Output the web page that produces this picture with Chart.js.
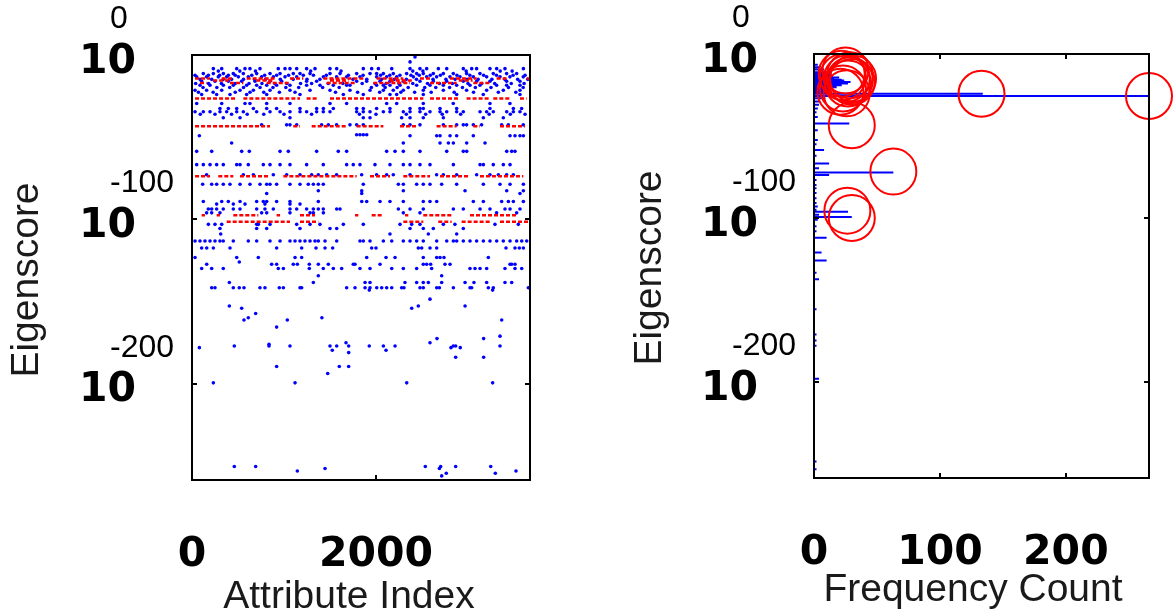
<!DOCTYPE html>
<html>
<head>
<meta charset="utf-8">
<script src="https://cdn.jsdelivr.net/npm/chart.js@4.4.1/dist/chart.umd.min.js"></script>
<style>
  html, body { margin: 0; padding: 0; background: #fff; }
  #wrap { position: relative; width: 1175px; height: 615px; overflow: hidden; }
  #left-chart { position: absolute; left: 0; top: 0; }
  #right-chart { position: absolute; left: 590px; top: 0; }
</style>
</head>
<body>
<div id="wrap">
  <canvas id="left-chart" width="590" height="615"></canvas>
  <canvas id="right-chart" width="585" height="615"></canvas>
</div>
<script>
'use strict';

// 軸の目盛り (y は 10 の指数)
const yTickExps = [0, -100, -200];
const xTicksLeft = [0, 2000];
const xTicksRight = [0, 100, 200];
const yMinExp = -258.5;

// 左図: 青い点 [指数, [属性インデックス...]]
const blueRows = [
  [-1.2, [2424]],
  [-4.2, [2370]],
  [-8.3, [232, 323, 486, 576, 630, 739, 938, 1011, 1065, 1138, 1246, 1337, 1500, 1573, 1862, 1953, 2026, 2171, 2370, 2478, 2551, 2678, 2769, 2949, 3040, 3094, 3239, 3312, 3402, 3602]],
  [-9.8, [286, 520, 690, 1290, 1620, 2400, 2510, 2980, 3350, 3480]],
  [-11.3, [123, 232, 341, 449, 558, 703, 848, 957, 1101, 1174, 1283, 1500, 1609, 1790, 1935, 2007, 2080, 2188, 2333, 2442, 2514, 2623, 2732, 2840, 2985, 3130, 3275, 3420, 3529]],
  [-12.3, [33, 178, 300, 395, 470, 650, 790, 920, 1050, 1210, 1320, 1460, 1700, 1860, 2050, 2150, 2260, 2380, 2470, 2590, 2700, 2880, 3020, 3170, 3310, 3490, 3620]],
  [-13.3, [51, 159, 286, 377, 504, 612, 757, 884, 1011, 1138, 1428, 1572, 1681, 1826, 2007, 2116, 2225, 2406, 2551, 2659, 2804, 2913, 3058, 3203, 3348, 3456, 3601]],
  [-14.8, [87, 214, 340, 430, 560, 680, 800, 960, 1100, 1250, 1390, 1520, 1750, 1900, 2060, 2200, 2330, 2440, 2620, 2760, 2860, 2990, 3110, 3260, 3400, 3540, 3650]],
  [-16, [105, 250, 395, 540, 685, 848, 975, 1246, 1355, 1790, 1899, 2043, 2152, 2297, 2478, 2623, 2768, 2949, 3094, 3239, 3420, 3565]],
  [-17.3, [40, 180, 320, 470, 620, 760, 900, 1030, 1180, 1300, 1480, 1640, 1850, 1990, 2110, 2250, 2400, 2560, 2690, 2830, 3000, 3150, 3290, 3470, 3610]],
  [-18.4, [87, 196, 341, 449, 594, 703, 812, 920, 1065, 1246, 1391, 1536, 1681, 1717, 2007, 2080, 2152, 2261, 2442, 2587, 2732, 2877, 3022, 3130, 3311, 3420, 3565]],
  [-19.8, [120, 270, 410, 560, 740, 880, 1020, 1160, 1420, 1600, 1950, 2100, 2230, 2350, 2530, 2650, 2800, 2940, 3080, 3250, 3440, 3600]],
  [-21.4, [33, 159, 323, 522, 667, 848, 1065, 1283, 1500, 1717, 1935, 2080, 2188, 2297, 2514, 2732, 2985, 3203, 3384, 3565]],
  [-22.7, [70, 230, 470, 630, 780, 950, 1120, 1560, 1800, 2040, 2270, 2420, 2600, 2850, 3060, 3330, 3520]],
  [-24, [105, 268, 413, 594, 812, 1174, 1645, 1862, 2152, 2225, 2514, 2877, 3166, 3565]],
  [-29.5, [51, 323, 576, 630, 812, 1065, 1500, 1681, 2116, 2225, 2514, 2840, 3239, 3456]],
  [-32.5, [304, 395, 486, 667, 812, 920, 1174, 1355, 1428, 1536, 1790, 1862, 2007, 2152, 2370, 2478, 2514, 2696, 2877, 3239, 3493, 3583]],
  [-34.5, [33, 123, 196, 304, 377, 486, 558, 703, 848, 957, 1065, 1174, 1246, 1355, 1427, 1500, 1790, 1862, 1935, 2080, 2152, 2297, 2370, 2478, 2587, 2696, 2769, 2877, 2949, 3131, 3203, 3275, 3421, 3493, 3565]],
  [-36, [90, 250, 430, 600, 780, 1000, 1300, 1820, 2000, 2330, 2540, 2720, 2920, 3230, 3460, 3620]],
  [-38.2, [340, 522, 1065, 1862, 1935, 2279, 2370, 2514, 2732, 3167, 3384]],
  [-42.5, [757, 1029, 1065, 1138, 1409, 1482, 1572, 1717, 1790, 1862, 2297, 2370, 2478, 2732, 2877, 2949, 2985, 3058, 3148, 3366, 3438, 3601]],
  [-48.5, [1790, 1826, 1862, 1899]],
  [-49.1, [80, 2370, 2660, 2696, 2805, 2877, 3058, 3457, 3511, 3565, 3602]],
  [-53.5, [431, 2297, 2696, 2787, 2841, 2986, 3185]],
  [-58.6, [51, 214, 540, 623, 957, 1047, 1355, 1590, 1681, 2116, 2207, 2297, 2478, 2769, 2949, 2986, 3421, 3475, 3511]],
  [-66.7, [51, 123, 196, 268, 340, 486, 522, 612, 775, 848, 957, 1065, 1246, 1427, 1681, 1753, 1826, 1989, 2152, 2297, 2370, 2478, 2587, 2841, 3131, 3167, 3275, 3384, 3457]],
  [-72.8, [159, 558, 667, 884, 1029, 1174, 1301, 1373, 1464, 1572, 1844, 2007, 2116, 2188, 2370, 2659, 2732, 2877, 3094, 3239, 3330, 3420, 3493]],
  [-78.6, [116, 214, 268, 340, 413, 522, 630, 739, 812, 848, 920, 1065, 1174, 1264, 1319, 1373, 1427, 1862, 2243, 2297, 2442, 2514, 2587, 2714, 2877, 3167, 3348, 3457, 3602]],
  [-82.6, [1373, 1845, 2297, 2968, 3421, 3602]],
  [-84.2, [812, 1845, 3565]],
  [-89.1, [123, 323, 395, 522, 703, 775, 812, 920, 1065, 1373, 1845, 1899, 2044, 2152, 2297, 2514, 2587, 2660, 3058, 3167, 3366, 3439, 3493, 3602]],
  [-90.7, [268, 449, 576, 793, 1065, 1174]],
  [-93.7, [177, 214, 268, 340, 449, 522, 703, 793, 884, 1065, 1138, 1246, 1319, 1373, 1427, 1573, 1609, 2243, 2370, 2514, 2841, 2949, 3131, 3239, 3402, 3457, 3565]],
  [-96, [159, 214, 304, 757, 812, 1065, 1283, 1319, 1428, 2297, 2478, 3311, 3529]],
  [-103, [178, 250, 323, 703, 721, 848, 1138, 1283, 1391, 1645, 1862, 2261, 2388, 2478, 2732, 2858, 3293, 3547]],
  [-105.5, [304, 703, 812, 1174, 1500, 1573, 2370, 2514, 2623, 2949]],
  [-108.9, [312, 2152, 2569, 2877]],
  [-113.1, [33, 87, 141, 196, 250, 304, 340, 449, 612, 703, 848, 957, 1065, 1120, 1174, 1228, 1283, 1337, 1373, 1446, 1573, 1826, 1862, 1935, 2080, 2171, 2297, 2370, 2442, 2514, 2660, 2769, 2841, 2877, 2949, 3022, 3094, 3167, 3239, 3312, 3384, 3457, 3529, 3584, 3638]],
  [-117.4, [105, 160, 232, 413, 920, 1192, 1348, 1446, 1529, 1953, 2000, 2460, 2497, 2587, 2660, 3413, 3511, 3558, 3602]],
  [-123.2, [33, 486, 721, 1120, 1192, 1899, 2109, 2207, 2514, 2660, 2696, 2739, 3221]],
  [-125.9, [514]],
  [-127.3, [160, 866, 920, 1101, 1145, 1275, 1373, 1482, 1753, 1772, 2044, 2514, 2551, 2594, 2750, 2805, 3457, 3475, 3511]],
  [-129.9, [105, 214, 340, 938, 993, 1275, 1427, 1536, 1627, 1826, 1935, 2171, 2297, 2442, 2605, 3022, 3076, 3131, 3203, 3402, 3511, 3584]],
  [-134.3, [1373, 2714]],
  [-138.4, [406, 1319, 1881, 1935, 2315, 2442, 2514, 2569, 2714, 2968, 3065, 3203, 3402, 3475]],
  [-141.6, [214, 250, 449, 514, 565, 739, 793, 949, 993, 1174, 1192, 1681, 1772, 1881, 1935, 2008, 2062, 2116, 2171, 2279, 2304, 2478, 2514, 2660, 2689, 2841, 3022, 3040, 3221, 3275, 3656]],
  [-143, [1927, 3268]],
  [-148.5, [2587]],
  [-152.7, [406, 2460, 2968]],
  [-154, [540, 2388]],
  [-157.2, [692]],
  [-159.8, [612, 1412]],
  [-161.2, [565, 1036, 3366]],
  [-165.5, [920]],
  [-171, [3348]],
  [-172.5, [2663, 3170]],
  [-175, [1674, 2587]],
  [-176, [837]],
  [-177, [460, 837, 1065, 1500, 1573, 1703, 1927, 2080, 2207, 2840, 2866, 3348]],
  [-178, [80, 2815, 2916]],
  [-179.6, [1525, 2109]],
  [-181, [1703]],
  [-183.8, [2866, 3170]],
  [-189.5, [920, 1601, 1703]],
  [-193.7, [1475]],
  [-199.4, [232, 1120, 2334, 3268]],
  [-250.3, [460, 692, 2536, 2703, 2866, 3247]],
  [-251.5, [1446, 2689]],
  [-253, [1145, 3522]],
  [-254.4, [2764, 3297]],
  [-256, [2714]]
];

// 左図: 赤い点の並び [指数, [[開始, 終了]...]]
const redRows = [
  [-14.3, [[33, 196], [323, 449], [594, 920], [1065, 1210], [1428, 1862], [2007, 2297], [2478, 2587], [2804, 3094], [3311, 3420], [3637, 3674]]],
  [-15.5, [[230, 400], [700, 880], [1500, 1700], [2150, 2400], [2900, 3050]]],
  [-17, [[87, 159], [413, 558], [812, 1065], [1464, 1790], [1971, 2370], [2587, 2877], [3058, 3239]]],
  [-26.5, [[33, 486], [558, 1174], [1246, 1355], [1500, 2514], [2587, 2913], [2985, 3239], [3275, 3456], [3565, 3637]]],
  [-43.4, [[33, 848], [1101, 1174], [1301, 1681], [1790, 2080], [2261, 2442], [2659, 2877], [3058, 3130], [3348, 3620]]],
  [-73.7, [[33, 196], [286, 449], [522, 848], [993, 1790], [1935, 2152], [2297, 2587], [2696, 3022], [3130, 3601]]],
  [-97.4, [[105, 141], [268, 304], [449, 721], [920, 957], [1174, 1337], [1772, 1808], [1953, 2080], [2315, 2351], [2514, 2840], [3022, 3529]]],
  [-101.4, [[377, 1065], [1174, 1373], [2297, 2514], [2677, 2822], [2931, 3239], [3348, 3674]]]
];

// 右図: 度数 (横棒)
const barExps = [-6.5, -8.1, -9.5, -11.1, -12.3, -13.5, -14.3, -15, -15.7, -16.2, -17, -17.6, -18, -18.7, -19, -19.6, -20.2, -21.5, -22.4, -23.2, -24.2, -25.6, -27, -29, -31, -33.3, -35.5, -38.4, -42.4, -46.5, -52.5, -55, -58.6, -62, -66.7, -69.7, -72.3, -73.7, -76.8, -79.8, -81.8, -84.8, -87.9, -90.9, -93, -95, -96.2, -98, -99.4, -101, -105, -108, -112, -121, -125.9, -133.3, -137.4, -155.6, -171, -174.7, -177.8, -198, -248.5, -253.1];
const barCounts = [3, 5, 8, 13, 14, 15, 20, 16, 22, 24, 29, 25, 27, 21, 22, 17, 18, 14, 13, 12, 134, 266, 9, 5, 4, 3, 2, 3, 28, 3, 3, 2, 8, 2, 12, 4, 63, 12, 2, 2, 2, 2, 2, 2, 3, 2, 27, 4, 30, 3, 2, 2, 10, 6, 10, 2, 4, 2, 2, 2, 2, 4, 2, 2];

// 右図: 赤い丸
const circleExps = [-10, -12, -14, -15, -16, -17, -15, -18, -21, -23, -24, -13, -43.4, -71.7, -95.5, -100, -24.2, -25.6];
const circleCounts = [25, 22, 23, 26, 28.5, 30, 31, 27, 23, 21, 26, 28.5, 30, 63, 26.5, 30, 133, 266];

// ---------------------------------------------------------------

const pow10 = e => Math.pow(10, e);

const bluePoints = [];
blueRows.forEach(([e, xs]) => xs.forEach(x => bluePoints.push({ x: x, y: pow10(e) })));

const redSegments = [];
redRows.forEach(([e, segs]) => segs.forEach(([a, b]) => {
  redSegments.push({ x: a, y: pow10(e) }, { x: b, y: pow10(e) }, { x: null, y: null });
}));

const barSegments = [];
barExps.forEach((e, i) => {
  barSegments.push({ x: 0, y: pow10(e) }, { x: barCounts[i], y: pow10(e) }, { x: null, y: null });
});

const circles = circleExps.map((e, i) => ({ x: circleCounts[i], y: pow10(e) }));

// 枠・目盛り・ラベルを描くプラグイン (MATLAB 風)
const framePlugin = {
  id: 'frame',
  afterDatasetsDraw(chart, args, opts) {
    const { ctx, chartArea: a } = chart;
    const xs = chart.scales.x;
    const ys = chart.scales.y;
    ctx.save();
    ctx.strokeStyle = '#000';
    ctx.lineWidth = 2;
    ctx.strokeRect(a.left, a.top, a.right - a.left, a.bottom - a.top);

    // 内向きの目盛り
    ctx.beginPath();
    opts.xTicks.forEach(v => {
      const px = Math.round(xs.getPixelForValue(v));
      ctx.moveTo(px, a.bottom); ctx.lineTo(px, a.bottom - 5);
      ctx.moveTo(px, a.top); ctx.lineTo(px, a.top + 5);
    });
    yTickExps.forEach(e => {
      const py = Math.round(ys.getPixelForValue(pow10(e)));
      ctx.moveTo(a.left, py); ctx.lineTo(a.left + 5, py);
      ctx.moveTo(a.right, py); ctx.lineTo(a.right - 5, py);
    });
    ctx.stroke();

    ctx.fillStyle = '#000';
    ctx.textBaseline = 'middle';

    // y 目盛りラベル 10^e
    yTickExps.forEach(e => {
      const py = ys.getPixelForValue(pow10(e));
      ctx.font = 'bold 41px "DejaVu Sans"';
      ctx.textAlign = 'right';
      ctx.fillText('10', a.left - 56, py + 7);
      ctx.font = '32px "Liberation Sans"';
      ctx.textAlign = 'left';
      ctx.fillText(String(e), a.left - 82, py - 36);
    });

    // x 目盛りラベル
    ctx.font = 'bold 41px "DejaVu Sans"';
    ctx.textAlign = 'center';
    opts.xTicks.forEach(v => {
      ctx.fillText(String(v), xs.getPixelForValue(v), a.bottom + 75);
    });

    // 軸タイトル
    ctx.fillStyle = '#1a1a1a';
    ctx.font = '39px "Liberation Sans"';
    ctx.fillText(opts.xTitle, opts.xTitleX, opts.xTitleY);
    ctx.save();
    ctx.translate(opts.yTitleX, opts.yTitleY);
    ctx.rotate(-Math.PI / 2);
    ctx.fillText('Eigenscore', 0, 0);
    ctx.restore();

    ctx.restore();
  }
};

const yScale = {
  type: 'logarithmic',
  display: false,
  min: pow10(yMinExp),
  max: 1
};

// 左図
new Chart(document.getElementById('left-chart').getContext('2d'), {
  type: 'scatter',
  data: {
    datasets: [{
      data: redSegments,
      showLine: true,
      spanGaps: false,
      borderColor: '#ff0000',
      borderWidth: 2.5,
      borderDash: [4, 2],
      pointRadius: 0,
      order: 0,
    }, {
      data: bluePoints,
      pointRadius: 1.8,
      pointBorderWidth: 0,
      backgroundColor: '#0000ff',
      order: 1,
    }]
  },
  options: {
    responsive: false,
    animation: false,
    events: [],
    layout: { padding: { left: 192, top: 55, right: 60, bottom: 135 } },
    scales: {
      x: { type: 'linear', display: false, min: 0, max: 3674 },
      y: yScale,
    },
    plugins: {
      legend: { display: false },
      tooltip: { enabled: false },
      frame: {
        xTicks: xTicksLeft,
        xTitle: 'Attribute Index',
        xTitleX: 349, xTitleY: 597,
        yTitleX: 27, yTitleY: 280,
      },
    },
  },
  plugins: [framePlugin],
});

// 右図
new Chart(document.getElementById('right-chart').getContext('2d'), {
  type: 'scatter',
  data: {
    datasets: [{
      data: circles,
      pointRadius: 23,
      pointStyle: 'circle',
      pointBorderWidth: 2,
      borderColor: '#ff0000',
      backgroundColor: 'rgba(0,0,0,0)',
      clip: false,
      order: 0,
    }, {
      data: barSegments,
      showLine: true,
      spanGaps: false,
      borderColor: '#0000ff',
      borderWidth: 2,
      pointRadius: 0,
      order: 1,
    }]
  },
  options: {
    responsive: false,
    animation: false,
    events: [],
    layout: { padding: { left: 224, top: 54, right: 26, bottom: 137 } },
    scales: {
      x: { type: 'linear', display: false, min: 0, max: 266 },
      y: yScale,
    },
    plugins: {
      legend: { display: false },
      tooltip: { enabled: false },
      frame: {
        xTicks: xTicksRight,
        xTitle: 'Frequency Count',
        xTitleX: 383, xTitleY: 590,
        yTitleX: 60, yTitleY: 268,
      },
    },
  },
  plugins: [framePlugin],
});
</script>
</body>
</html>
